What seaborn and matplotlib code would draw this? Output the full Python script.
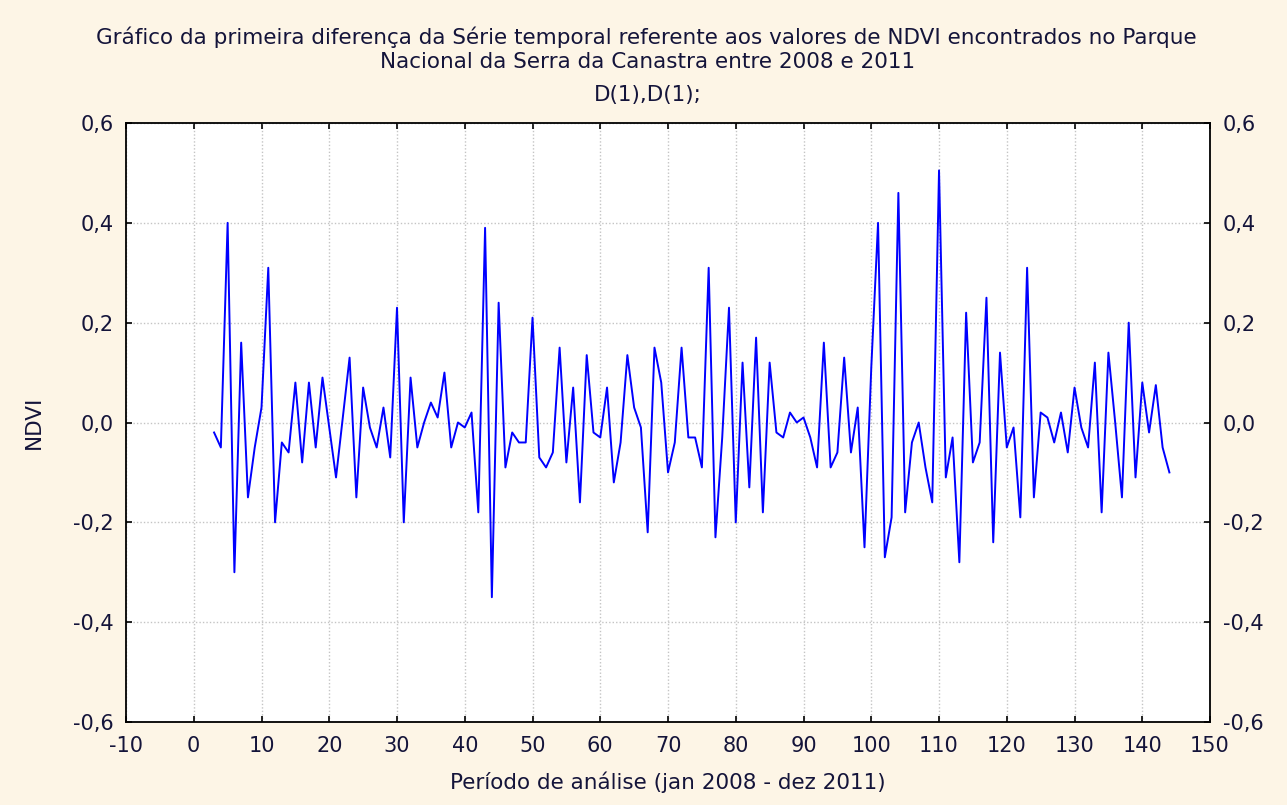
import numpy as np
import pandas as pd
import matplotlib
matplotlib.use("Agg")
import matplotlib.pyplot as plt
import seaborn as sns

# Second difference series of NDVI, periods 3..144
periodo = list(range(3, 145))
ndvi_diff = [
    -0.02, -0.05, 0.40, -0.30, 0.16, -0.15, -0.05, 0.03, 0.31, -0.20,
    -0.04, -0.06, 0.08, -0.08, 0.08, -0.05, 0.09, -0.01, -0.11, 0.01,
    0.13, -0.15, 0.07, -0.01, -0.05, 0.03, -0.07, 0.23, -0.20, 0.09,
    -0.05, 0.00, 0.04, 0.01, 0.10, -0.05, 0.00, -0.01, 0.02, -0.18,
    0.39, -0.35, 0.24, -0.09, -0.02, -0.04, -0.04, 0.21, -0.07, -0.09,
    -0.06, 0.15, -0.08, 0.07, -0.16, 0.135, -0.02, -0.03, 0.07, -0.12,
    -0.04, 0.135, 0.03, -0.01, -0.22, 0.15, 0.08, -0.10, -0.04, 0.15,
    -0.03, -0.03, -0.09, 0.31, -0.23, -0.03, 0.23, -0.20, 0.12, -0.13,
    0.17, -0.18, 0.12, -0.02, -0.03, 0.02, 0.00, 0.01, -0.03, -0.09,
    0.16, -0.09, -0.06, 0.13, -0.06, 0.03, -0.25, 0.11, 0.40, -0.27,
    -0.19, 0.46, -0.18, -0.04, 0.00, -0.09, -0.16, 0.505, -0.11, -0.03,
    -0.28, 0.22, -0.08, -0.04, 0.25, -0.24, 0.14, -0.05, -0.01, -0.19,
    0.31, -0.15, 0.02, 0.01, -0.04, 0.02, -0.06, 0.07, -0.01, -0.05,
    0.12, -0.18, 0.14, 0.00, -0.15, 0.20, -0.11, 0.08, -0.02, 0.075,
    -0.05, -0.10,
]

x_ticks = list(range(-10, 151, 10))
y_ticks = [-0.6, -0.4, -0.2, 0.0, 0.2, 0.4, 0.6]
y_tick_labels = ["-0,6", "-0,4", "-0,2", "0,0", "0,2", "0,4", "0,6"]

titulo_1 = "Gráfico da primeira diferença da Série temporal referente aos valores de NDVI encontrados no Parque"
titulo_2 = "Nacional da Serra da Canastra entre 2008 e 2011"
titulo_3 = "D(1),D(1);"

df = pd.DataFrame({"Periodo": periodo, "NDVI": ndvi_diff})

text_color = "#14143a"
fig = plt.figure(figsize=(12.87, 8.05), dpi=100, facecolor="#fdf5e6")
ax = fig.add_axes([0.0979, 0.1031, 0.8423, 0.7441])
ax.set_facecolor("white")

sns.lineplot(data=df, x="Periodo", y="NDVI", color="#0000ff", linewidth=1.4, ax=ax)

ax.set_xlim(-10, 150)
ax.set_ylim(-0.6, 0.6)
ax.set_xticks(x_ticks)
ax.set_xticklabels([str(t) for t in x_ticks])
ax.set_yticks(y_ticks)
ax.set_yticklabels(y_tick_labels)

ax.grid(True, color="#c4c4c4", linestyle=(0, (1, 1.5)), linewidth=1.0)
for s in ax.spines.values():
    s.set_color("black")
    s.set_linewidth(1.3)

ax.tick_params(axis="both", direction="in", length=4, width=1.2, color="black",
               labelsize=15, labelcolor=text_color, top=True, right=True)
ax.tick_params(axis="y", labelright=True, pad=9)
ax.tick_params(axis="x", pad=10)

ax.set_xlabel("Período de análise (jan 2008 - dez 2011)", fontsize=15.5, color=text_color)
ax.set_ylabel("NDVI", fontsize=15.5, color=text_color)
ax.xaxis.set_label_coords(0.5, -0.083)
ax.yaxis.set_label_coords(-0.076, 0.5)

fig.text(0.502, 0.954, titulo_1, ha="center", va="center", fontsize=15.5, color=text_color)
fig.text(0.503, 0.923, titulo_2, ha="center", va="center", fontsize=15.5, color=text_color)
fig.text(0.503, 0.882, titulo_3, ha="center", va="center", fontsize=15.5, color=text_color)

fig.savefig("out.png", dpi=100, facecolor=fig.get_facecolor())
